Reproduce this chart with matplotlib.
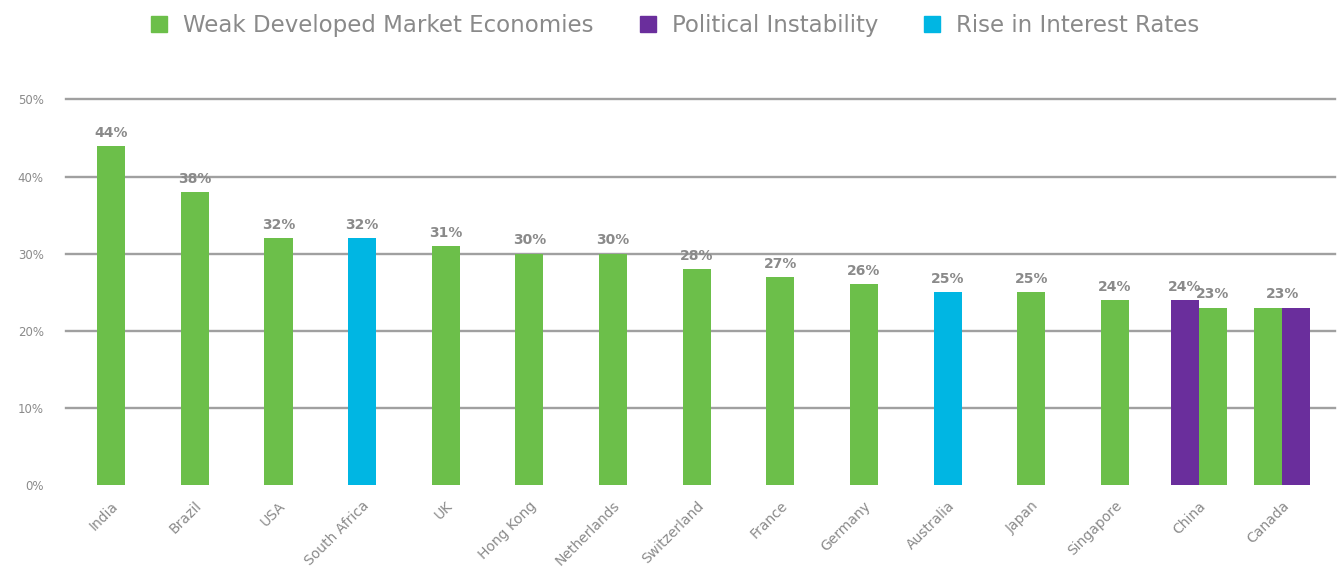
import numpy as np
import matplotlib.pyplot as plt
from matplotlib.patches import Patch

# data
countries = ['India', 'Brazil', 'USA', 'South Africa', 'UK', 'Hong Kong', 'Netherlands',
             'Switzerland', 'France', 'Germany', 'Australia', 'Japan', 'Singapore', 'China', 'Canada']
weak_economies = [44, 38, 32, None, 31, 30, 30, 28, 27, 26, None, 25, 24, 23, 23]
political = [None, None, None, None, None, None, None, None, None, None, None, None, None, 24, 23]
interest_rates = [None, None, None, 32, None, None, None, None, None, None, 25, None, None, None, None]

series_names = ['Weak Developed Market Economies', 'Political Instability', 'Rise in Interest Rates']
series_colors = ['#6cbf4a', '#6a2e9c', '#00b6e3']
yticks = [0, 10, 20, 30, 40, 50]

TEXT_GRAY = '#8a8a8a'
BAR_W = 0.335

plt.rcParams['font.family'] = ['DejaVu Sans']

fig = plt.figure(figsize=(13.37, 5.85), dpi=100)
ax = fig.add_axes([0.0494, 0.171, 0.949, 0.659])

all_series = [weak_economies, political, interest_rates]
x = np.arange(len(countries))

for i in range(len(countries)):
    # bars present for this country, highest first (stable for ties)
    present = [(s[i], k) for k, s in enumerate(all_series) if s[i] is not None]
    present.sort(key=lambda p: -p[0])
    n = len(present)
    offsets = (np.arange(n) - (n - 1) / 2) * BAR_W
    for (val, k), off in zip(present, offsets):
        ax.bar(x[i] + off, val, width=BAR_W, color=series_colors[k], zorder=3)
    vals = [p[0] for p in present]
    if n > 1 and len(set(vals)) == 1:
        ax.text(x[i], vals[0] + 0.8, f'{vals[0]}%', ha='center', va='bottom',
                fontsize=10, fontweight='bold', color=TEXT_GRAY, clip_on=False)
    else:
        for (val, k), off in zip(present, offsets):
            ax.text(x[i] + off, val + 0.8, f'{val}%', ha='center', va='bottom',
                    fontsize=10, fontweight='bold', color=TEXT_GRAY, clip_on=False)

ax.set_xlim(-0.54, len(countries) - 1 + 0.63)
ax.set_ylim(0, 50)
ax.set_yticks(yticks)
ax.set_yticklabels([f'{t}%' for t in yticks])
ax.set_xticks(x)
ax.set_xticklabels(countries, rotation=45, ha='right', rotation_mode='anchor')

ax.yaxis.grid(True, color='#a0a0a0', linewidth=1.7, zorder=0)
gridlines = ax.get_ygridlines()
gridlines[0].set_visible(False)
for gl in gridlines:
    gl.set_clip_on(False)
for sp in ax.spines.values():
    sp.set_visible(False)
ax.tick_params(axis='both', length=0, colors=TEXT_GRAY)
ax.tick_params(axis='y', labelsize=8.5, pad=16)
ax.tick_params(axis='x', labelsize=10, pad=10)

handles = [Patch(color=c, label=n) for c, n in zip(series_colors, series_names)]
fig.legend(handles=handles, loc='upper center', bbox_to_anchor=(0.505, 1.012), ncol=3,
           frameon=False, fontsize=16.5, labelcolor=TEXT_GRAY, handlelength=0.7,
           handleheight=0.7, columnspacing=2.0, handletextpad=0.7)

fig.savefig('out.png', dpi=100)
